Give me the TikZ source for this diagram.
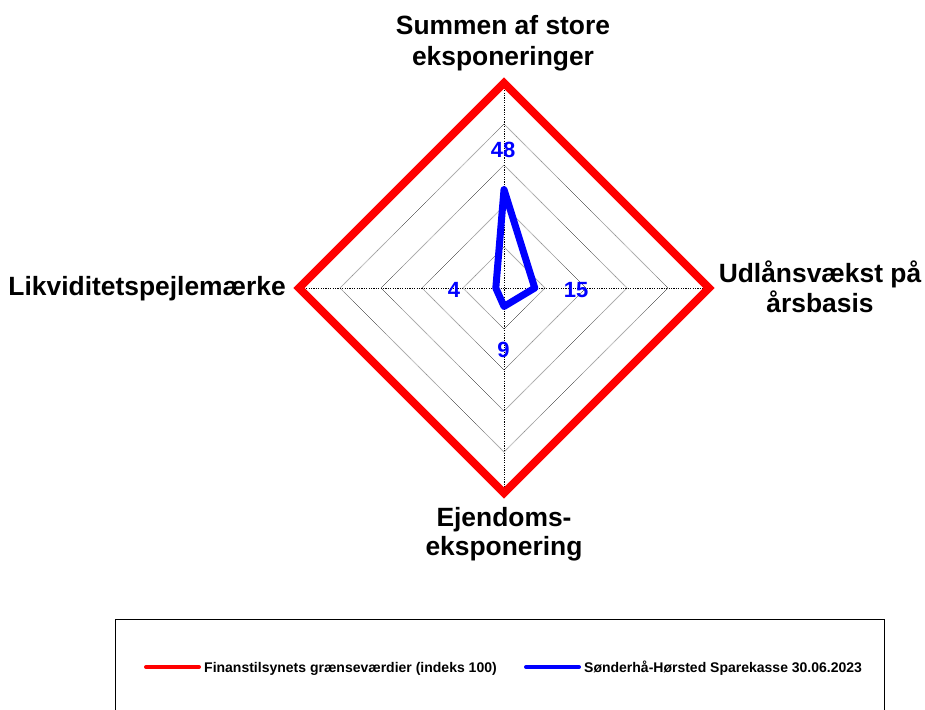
\documentclass[tikz,border=0pt]{standalone}
\usepackage{fontspec}
\setmainfont{Liberation Sans}
\definecolor{chartred}{RGB}{255,0,0}
\definecolor{chartblue}{RGB}{0,0,255}
\tikzset{
  gridline/.style={draw=black!75, line width=0.6pt, dash pattern=on 0.7pt off 0.7pt},
  axisline/.style={draw=black, line width=1pt, dash pattern=on 1.2pt off 1.2pt},
  limitline/.style={draw=chartred, line width=8pt, line join=miter},
  bankline/.style={draw=chartblue, line width=7pt, line join=round},
  axislbl/.style={font=\fontsize{26.4}{30}\selectfont\bfseries, inner sep=0pt, anchor=base},
  vallbl/.style={font=\fontsize{22}{26}\selectfont\bfseries, text=chartblue, inner sep=0pt, anchor=base},
  legtxt/.style={font=\fontsize{14}{16}\selectfont\bfseries, inner sep=0pt, anchor=base west},
  legline/.style={line width=4pt, line cap=round},
}
\begin{document}
\begin{tikzpicture}[x=1pt,y=-1pt]
\useasboundingbox (0,0) rectangle (925,709);
% axis end points
\coordinate (C) at (504,288);
\coordinate (T) at (504,83);
\coordinate (R) at (709,288);
\coordinate (B) at (504,493);
\coordinate (L) at (299,288);
% grid rings
\foreach \r in {41,82,123,164}{
  \draw[gridline] (504,288-\r) -- (504+\r,288) -- (504,288+\r) -- (504-\r,288) -- cycle;
}
% axes
\draw[axisline] (T) -- (B);
\draw[axisline] (L) -- (R);
% limit (index 100)
\draw[limitline] (T) -- (R) -- (B) -- (L) -- cycle;
% bank values
\coordinate (bT) at (504,189.6);
\coordinate (bR) at (534.75,288);
\coordinate (bB) at (504,306.45);
\coordinate (bL) at (495.8,288);
\draw[bankline] (bT) -- (bR) -- (bB) -- (bL) -- cycle;
% value labels
\node[vallbl] (v48) at (503,157) {48};
\node[vallbl] (v15) at (576,297) {15};
\node[vallbl] (v4) at (454,297) {4};
\node[vallbl] (v9) at (503.5,357) {9};
% axis labels
\node[axislbl] (t1) at (503,35) {Summen af store};
\node[axislbl] (t2) at (503,65) {eksponeringer};
\node[axislbl] (r1) at (820,282) {Udlånsvækst på};
\node[axislbl] (r2) at (820,312) {årsbasis};
\node[axislbl, anchor=base east] (l1) at (286,295) {Likviditetspejlemærke};
\node[axislbl] (b1) at (504,526) {Ejendoms-};
\node[axislbl] (b2) at (504,555) {eksponering};
% legend
\draw[line width=1pt] (115,710) -- (115,619) -- (884,619) -- (884,710);
\coordinate (lr1) at (146,667);
\coordinate (lr2) at (199,667);
\draw[legline, chartred] (lr1) -- (lr2);
\node[legtxt] (lt1) at (204,672.5) {Finanstilsynets grænseværdier (indeks 100)};
\coordinate (lb1) at (526,667);
\coordinate (lb2) at (579,667);
\draw[legline, chartblue] (lb1) -- (lb2);
\node[legtxt] (lt2) at (584,672.5) {Sønderhå-Hørsted Sparekasse 30.06.2023};
\end{tikzpicture}
\end{document}
